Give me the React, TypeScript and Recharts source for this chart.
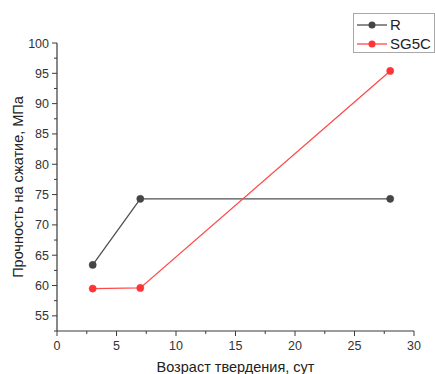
import { LineChart, Line, XAxis, YAxis } from 'recharts';

// curing age, days
const ages = [3, 7, 28];
// compressive strength, MPa
const strengthR = [63.4, 74.3, 74.3];
const strengthSG5C = [59.5, 59.6, 95.4];

const xTicks = [0, 2.5, 5, 7.5, 10, 12.5, 15, 17.5, 20, 22.5, 25, 27.5, 30];
const yTicks = [52.5, 55, 57.5, 60, 62.5, 65, 67.5, 70, 72.5, 75, 77.5, 80, 82.5, 85, 87.5, 90, 92.5, 95, 97.5, 100];

const xTitle = 'Возраст твердения, сут';
const yTitle = 'Прочность на сжатие, МПа';

const series = [
  { key: 'R', label: 'R', line: '#505050', dot: '#454545' },
  { key: 'SG5C', label: 'SG5C', line: '#ff4a4a', dot: '#ff3535' },
];

const data = ages.map((age, i) => ({ age, R: strengthR[i], SG5C: strengthSG5C[i] }));

const FONT = "'Liberation Sans', Arial, sans-serif";
const AXIS = '#3a3a3a';
const TICK_SIZE = 5;
const TICK_MARGIN = 3;

const isMajor = (v: number) => Math.abs(v % 5) < 1e-6;

function XTick(props: any) {
  const { x, y, payload } = props;
  const axisY = y - TICK_SIZE - TICK_MARGIN;
  const major = isMajor(payload.value);
  return (
    <g>
      <line x1={x} x2={x} y1={axisY} y2={axisY + (major ? 5 : 3)} stroke={AXIS} strokeWidth={1} />
      {major && (
        <text x={x} y={axisY + 19} textAnchor="middle" fontSize={12.5} fontFamily={FONT} fill="#333">
          {payload.value}
        </text>
      )}
    </g>
  );
}

function YTick(props: any) {
  const { x, y, payload } = props;
  const axisX = x + TICK_SIZE + TICK_MARGIN;
  const major = isMajor(payload.value);
  return (
    <g>
      <line x1={axisX - (major ? 5 : 3)} x2={axisX} y1={y} y2={y} stroke={AXIS} strokeWidth={1} />
      {major && (
        <text x={axisX - 8} y={y} dy="0.36em" textAnchor="end" fontSize={12.5} fontFamily={FONT} fill="#333">
          {payload.value}
        </text>
      )}
    </g>
  );
}

function LegendBox() {
  return (
    <div
      style={{
        position: 'absolute',
        left: 353,
        top: 13,
        width: 80,
        height: 38,
        border: '1px solid #a8a8a8',
        background: '#fff',
        fontFamily: FONT,
        fontSize: 15,
        color: '#222',
      }}
    >
      {series.map((s, i) => (
        <div
          key={s.key}
          style={{ position: 'absolute', left: 2, top: 2 + i * 19, height: 18, display: 'flex', alignItems: 'center' }}
        >
          <svg width={32} height={18}>
            <line x1={1} x2={31} y1={9} y2={9} stroke={s.line} strokeWidth={1.3} />
            <circle cx={16} cy={9} r={3.5} fill={s.dot} />
          </svg>
          <span style={{ marginLeft: 2, lineHeight: '18px' }}>{s.label}</span>
        </div>
      ))}
    </div>
  );
}

export default function App() {
  return (
    <div style={{ position: 'absolute', left: 0, top: 0, width: 435, height: 374, background: '#fff', overflow: 'hidden' }}>
      <LineChart width={435} height={374} data={data} margin={{ top: 43, right: 21, left: 0, bottom: 0 }}>
        <XAxis
          type="number"
          dataKey="age"
          domain={[0, 30]}
          ticks={xTicks}
          interval={0}
          height={43}
          tickLine={false}
          tickSize={TICK_SIZE}
          tickMargin={TICK_MARGIN}
          tick={<XTick />}
          axisLine={{ stroke: AXIS, strokeWidth: 1.2 }}
          label={{
            content: ({ viewBox }: any) => (
              <text
                x={viewBox.x + viewBox.width / 2}
                y={viewBox.y + viewBox.height - 2}
                textAnchor="middle"
                fontSize={14.5}
                fontFamily={FONT}
                fill="#222"
              >
                {xTitle}
              </text>
            ),
          }}
        />
        <YAxis
          type="number"
          domain={[52.5, 100]}
          ticks={yTicks}
          interval={0}
          width={57}
          allowDataOverflow
          tickLine={false}
          tickSize={TICK_SIZE}
          tickMargin={TICK_MARGIN}
          tick={<YTick />}
          axisLine={{ stroke: AXIS, strokeWidth: 1.2 }}
          label={{
            content: ({ viewBox }: any) => {
              const cx = 23;
              const cy = viewBox.y + viewBox.height / 2;
              return (
                <text
                  x={cx}
                  y={cy}
                  transform={`rotate(-90 ${cx} ${cy})`}
                  textAnchor="middle"
                  fontSize={14.5}
                  fontFamily={FONT}
                  fill="#222"
                >
                  {yTitle}
                </text>
              );
            },
          }}
        />
        {series.map((s) => (
          <Line
            key={s.key}
            type="linear"
            dataKey={s.key}
            name={s.label}
            stroke={s.line}
            strokeWidth={1.3}
            dot={{ r: 3.6, fill: s.dot, stroke: s.dot, strokeWidth: 0.5 }}
            activeDot={false}
            isAnimationActive={false}
          />
        ))}
      </LineChart>
      <LegendBox />
    </div>
  );
}
